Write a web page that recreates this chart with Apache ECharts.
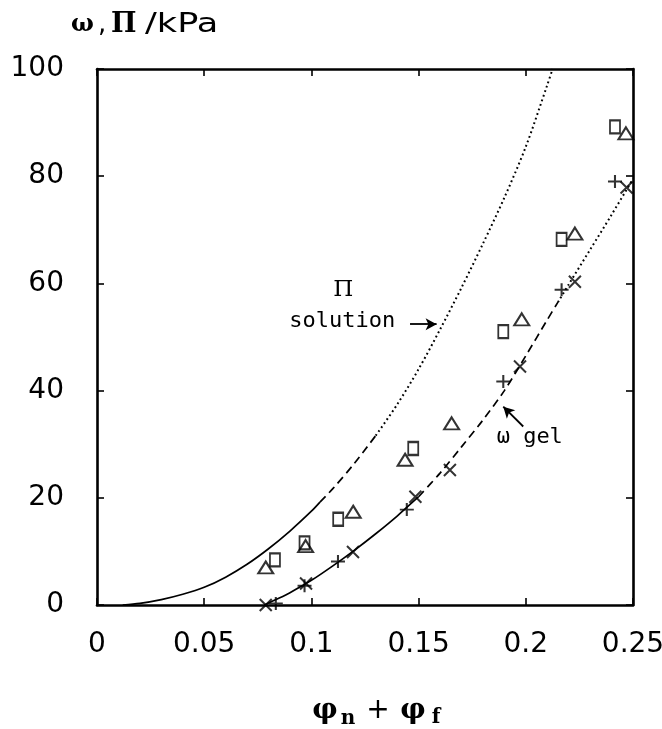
<!DOCTYPE html>
<html>
<head>
<meta charset="utf-8">
<script src="https://cdn.jsdelivr.net/npm/echarts@6/dist/echarts.min.js"></script>
<style>
	html, body { margin: 0; padding: 0; background: #fff; }
	#chart { width: 662px; height: 729px; }
</style>
</head>
<body>
<div id="chart"></div>
<script>
	// tick labels
	var xTickLabels = ['0', '0.05', '0.1', '0.15', '0.2', '0.25'];
	var yTickLabels = ['0', '20', '40', '60', '80', '100'];

	// Π solution curve (solid, dashed, dotted parts)
	var piSolid = [[0.012, 0], [0.02, 0.3], [0.03, 1], [0.04, 2], [0.05, 3.3], [0.06, 5.2], [0.07, 7.6], [0.08, 10.5], [0.09, 13.8], [0.1, 17.5], [0.104, 19.2]];
	var piDashed = [[0.104, 19.2], [0.11, 21.7], [0.12, 26.4], [0.13, 31.6]];
	var piDotted = [[0.13, 31.6], [0.14, 37.4], [0.15, 44], [0.16, 51.4], [0.17, 59.2], [0.18, 67.4], [0.19, 76], [0.2, 85.5], [0.21, 97], [0.2125, 100]];

	// ω gel curve
	var omegaSolid = [[0.078, 0], [0.085, 1.3], [0.09, 2.3], [0.1, 4.6], [0.11, 7.3], [0.12, 10.2], [0.13, 13.3], [0.14, 16.6], [0.15, 20.2]];
	var omegaDashed = [[0.15, 20.2], [0.16, 24.6], [0.17, 29.5], [0.18, 34.5], [0.19, 40], [0.2, 46.5], [0.21, 53.2], [0.215, 56.5]];
	var omegaDotted = [[0.215, 56.5], [0.22, 59.8], [0.23, 66.3], [0.24, 72.8], [0.25, 79.5]];

	// measured points
	var squarePts = [[0.083, 8.4], [0.0968, 11.6], [0.1125, 16.0], [0.1475, 29.2], [0.1895, 51.0], [0.2167, 68.2], [0.2416, 89.2]];
	var trianglePts = [[0.0787, 7.0], [0.0973, 11.0], [0.1195, 17.4], [0.1437, 27.1], [0.1654, 33.9], [0.1981, 53.3], [0.2229, 69.3], [0.2467, 88.0]];
	var plusPts = [[0.0834, 0.3], [0.0968, 3.6], [0.1124, 8.1], [0.1445, 17.8], [0.1895, 41.7], [0.2167, 58.8], [0.2416, 79.0]];
	var crossPts = [[0.0787, 0], [0.0975, 4.0], [0.1194, 9.9], [0.1485, 20.2], [0.1646, 25.2], [0.1973, 44.5], [0.2229, 60.3], [0.247, 77.9]];

	var chart = echarts.init(document.getElementById('chart'));

	function curve(data, type) {
		var dash = type === 'dashed' ? [8, 5] : (type === 'dotted' ? [1.8, 3] : 'solid');
		return {
			type: 'line',
			data: data,
			smooth: 0.3,
			showSymbol: false,
			symbol: 'none',
			clip: false,
			lineStyle: { color: '#000', width: type === 'dotted' ? 2 : 1.7, type: dash },
			z: 2
		};
	}

	function points(data, symbol, size) {
		return {
			type: 'scatter',
			data: data,
			symbol: symbol,
			symbolSize: size,
			clip: false,
			itemStyle: { color: 'rgba(0,0,0,0)', borderColor: '#000', borderWidth: 2 },
			z: 5
		};
	}

	var tickStyle = { show: true, inside: true, length: 7, lineStyle: { color: '#000', width: 1.6 } };
	var lineStyle = { show: true, onZero: false, lineStyle: { color: '#000', width: 2.6 } };
	var labelFont = { fontFamily: 'DejaVu Sans', fontSize: 28, color: '#000' };

	var arrow = curve([], 'solid');
	arrow.markLine = {
		silent: true,
		symbol: ['none', 'arrow'],
		symbolSize: [9, 11],
		lineStyle: { color: '#000', width: 1.8, type: 'solid' },
		label: { show: false },
		data: [
			[{ coord: [0.146, 52.4] }, { coord: [0.1584, 52.4] }],
			[{ coord: [0.1988, 33.3] }, { coord: [0.1895, 37.0] }]
		]
	};

	var option = {
		animation: false,
		backgroundColor: '#fff',
		grid: { left: 97, right: 29, top: 69, bottom: 124, containLabel: false, outerBoundsMode: 'none' },
		xAxis: [{
				type: 'value', min: 0, max: 0.25, interval: 0.05,
				axisLine: lineStyle, axisTick: tickStyle, splitLine: { show: false },
				axisLabel: Object.assign({ margin: 26, formatter: function (v) { return xTickLabels[Math.round(v / 0.05)]; } }, labelFont)
			},
			{
				type: 'value', position: 'top', min: 0, max: 0.25, interval: 0.05,
				axisLine: lineStyle, axisTick: tickStyle, splitLine: { show: false }, axisLabel: { show: false }
			}
		],
		yAxis: [{
				type: 'value', min: 0, max: 100, interval: 20,
				axisLine: lineStyle, axisTick: tickStyle, splitLine: { show: false },
				axisLabel: Object.assign({ margin: 33, formatter: function (v) { return yTickLabels[Math.round(v / 20)]; } }, labelFont)
			},
			{
				type: 'value', position: 'right', min: 0, max: 100, interval: 20,
				axisLine: lineStyle, axisTick: tickStyle, splitLine: { show: false }, axisLabel: { show: false }
			}
		],
		series: [
			curve(piSolid, 'solid'), curve(piDashed, 'dashed'), curve(piDotted, 'dotted'),
			curve(omegaSolid, 'solid'), curve(omegaDashed, 'dashed'), curve(omegaDotted, 'dotted'),
			arrow,
			points(squarePts, 'rect', [10, 13]),
			points(trianglePts, 'triangle', [15, 12]),
			points(plusPts, 'path://M0 5L10 5M5 0L5 10', [14, 13]),
			points(crossPts, 'path://M0 0L10 10M10 0L0 10', [12, 12])
		]
	};
	chart.setOption(option);

	// annotations placed in data coordinates
	function px(x, y) {
		return chart.convertToPixel({ gridIndex: 0 }, [x, y]);
	}
	var serifBold = { fontFamily: 'DejaVu Serif', fontWeight: 'bold', fill: '#000' };
	var piPos = px(0.1149, 58.8);
	var solPos = px(0.0897, 52.9);
	var gelPos = px(0.1864, 31.3);

	chart.setOption({
		graphic: [
			{ type: 'text', x: piPos[0], y: piPos[1], style: { text: 'Π', fontFamily: 'DejaVu Serif', fontSize: 23, fill: '#000', align: 'center', verticalAlign: 'middle' } },
			{ type: 'text', x: solPos[0], y: solPos[1], style: { text: 'solution', fontFamily: 'DejaVu Sans Mono', fontSize: 22, fill: '#000', align: 'left', verticalAlign: 'middle' } },
			{ type: 'text', x: gelPos[0], y: gelPos[1], style: { text: 'ω gel', fontFamily: 'DejaVu Sans Mono', fontSize: 22, fill: '#000', align: 'left', verticalAlign: 'middle' } },
			// y axis title
			{ type: 'text', x: 71, y: 25, style: Object.assign({ text: 'ω', fontSize: 24, verticalAlign: 'middle' }, serifBold) },
			{ type: 'text', x: 98, y: 25, style: { text: ',', fontFamily: 'DejaVu Sans', fontSize: 26, fill: '#000', verticalAlign: 'middle' } },
			{ type: 'text', x: 111, y: 25, style: Object.assign({ text: 'Π', fontSize: 27, verticalAlign: 'middle' }, serifBold) },
			{ type: 'text', x: 145, y: 25, scaleX: 1.3, style: { text: '/kPa', fontFamily: 'DejaVu Sans', fontSize: 27, fill: '#000', verticalAlign: 'middle' } },
			// x axis title
			{ type: 'text', x: 325, y: 711, style: Object.assign({ text: 'φ', fontSize: 28, align: 'center', verticalAlign: 'middle' }, serifBold) },
			{ type: 'text', x: 348, y: 719, style: Object.assign({ text: 'n', fontSize: 20, align: 'center', verticalAlign: 'middle' }, serifBold) },
			{ type: 'text', x: 378, y: 711, style: { text: '+', fontFamily: 'DejaVu Sans', fontSize: 28, fill: '#000', align: 'center', verticalAlign: 'middle' } },
			{ type: 'text', x: 413, y: 711, style: Object.assign({ text: 'φ', fontSize: 28, align: 'center', verticalAlign: 'middle' }, serifBold) },
			{ type: 'text', x: 436, y: 718, style: Object.assign({ text: 'f', fontSize: 20, align: 'center', verticalAlign: 'middle' }, serifBold) }
		]
	});
</script>
</body>
</html>
